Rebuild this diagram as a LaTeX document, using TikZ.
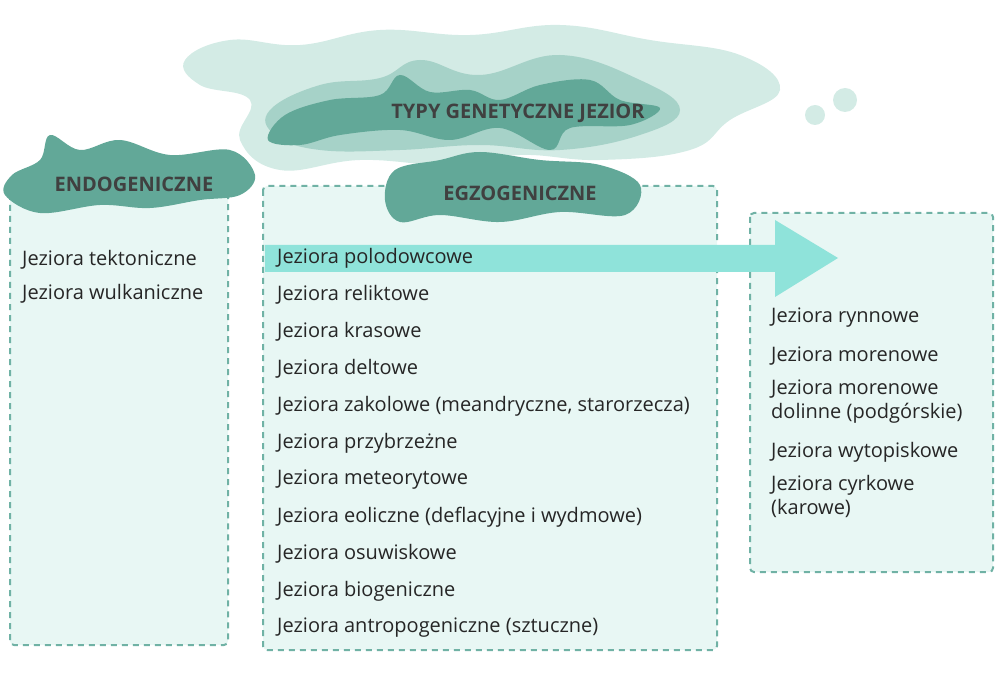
\documentclass[tikz,border=0pt]{standalone}
\usepackage{fontspec}
\setmainfont{Open Sans}
\begin{document}
\definecolor{boxfill}{HTML}{E8F7F4}
\definecolor{boxline}{HTML}{70B2A5}
\definecolor{cloudA}{HTML}{62A898}
\definecolor{cloudB}{HTML}{A6D2C8}
\definecolor{cloudC}{HTML}{D3EBE5}
\definecolor{arrowc}{HTML}{8FE3DA}
\begin{tikzpicture}[x=1pt,y=-1pt,
  box/.style={draw=boxline,fill=boxfill,line width=2pt,dash pattern=on 6pt off 5pt,rounded corners=4pt},
  item/.style={anchor=west,font=\fontsize{20}{24}\selectfont,text=black!85,inner sep=0pt,align=left},
  head/.style={font=\bfseries\fontsize{20}{24}\selectfont,text=black!75}]
\useasboundingbox (0,0) rectangle (1000,700);
% boxes
\draw[box] (10,190) rectangle (228,645);
\draw[box] (263,186) rectangle (717,650);
\draw[box] (750,213) rectangle (993,572);
% background cloud layers
\fill[cloudC] plot[smooth cycle,tension=0.7] coordinates {(185,60)(230,40)(300,45)(380,30)(470,35)(560,25)(650,40)(740,55)(780,90)(730,120)(690,150)(600,160)(520,155)(450,165)(360,160)(280,170)(240,140)(250,100)(200,85)};
\fill[cloudB] plot[smooth cycle,tension=0.7] coordinates {(270,110)(320,85)(380,78)(420,60)(480,75)(560,55)(640,80)(680,110)(640,135)(560,150)(480,145)(400,150)(320,150)(275,135)};
\fill[cloudC] (815,115) circle (10); \fill[cloudC] (845,100) circle (12); \fill[cloudC] (745,75) circle (9);
\fill[cloudC] (205,60) circle (12); \fill[cloudC] (235,50) circle (10);
% title cloud
\fill[cloudA] plot[smooth cycle,tension=0.6] coordinates {(268,140)(285,115)(330,100)(380,95)(400,75)(430,92)(470,90)(500,100)(540,85)(590,80)(620,100)(660,108)(630,125)(570,128)(550,150)(500,128)(450,140)(400,130)(340,135)(300,145)};
% endogeniczne cloud
\fill[cloudA] plot[smooth cycle,tension=0.6] coordinates {(5,195)(12,175)(40,160)(50,135)(80,150)(120,140)(170,155)(230,150)(255,175)(240,195)(200,200)(150,208)(100,205)(40,213)};
% egzogeniczne cloud
\fill[cloudA] plot[smooth cycle,tension=0.6] coordinates {(385,200)(395,170)(440,160)(480,152)(540,160)(600,165)(640,185)(625,215)(560,212)(500,222)(440,215)(400,222)};
% arrow
\fill[arrowc] (265,245) -- (775,245) -- (775,220) -- (838,258) -- (775,297) -- (775,272) -- (265,272) -- cycle;
% headings
\node[head] (tt) at (518,113) {TYPY GENETYCZNE JEZIOR};
\node[head] (en) at (134,184) {ENDOGENICZNE};
\node[head] (eg) at (520,193) {EGZOGENICZNE};
% items
\node[item] (l1) at (22,260) {Jeziora tektoniczne};
\node[item] (l2) at (22,294) {Jeziora wulkaniczne};
\node[item] (m1) at (277,258) {Jeziora polodowcowe};
\node[item] (m2) at (277,295) {Jeziora reliktowe};
\node[item] (m3) at (277,332) {Jeziora krasowe};
\node[item] (m4) at (277,369) {Jeziora deltowe};
\node[item] (m5) at (277,406) {Jeziora zakolowe (meandryczne, starorzecza)};
\node[item] (m6) at (277,443) {Jeziora przybrzeżne};
\node[item] (m7) at (277,480) {Jeziora meteorytowe};
\node[item] (m8) at (277,517) {Jeziora eoliczne (deflacyjne i wydmowe)};
\node[item] (m9) at (277,554) {Jeziora osuwiskowe};
\node[item] (m10) at (277,591) {Jeziora biogeniczne};
\node[item] (m11) at (277,628) {Jeziora antropogeniczne (sztuczne)};
\node[item] (r1) at (771,318) {Jeziora rynnowe};
\node[item] (r2) at (771,356) {Jeziora morenowe};
\node[item,anchor=north west] (r3) at (771,380) {Jeziora morenowe\\dolinne (podgórskie)};
\node[item] (r4) at (771,452) {Jeziora wytopiskowe};
\node[item,anchor=north west] (r5) at (771,475) {Jeziora cyrkowe\\(karowe)};
\end{tikzpicture}
\end{document}
